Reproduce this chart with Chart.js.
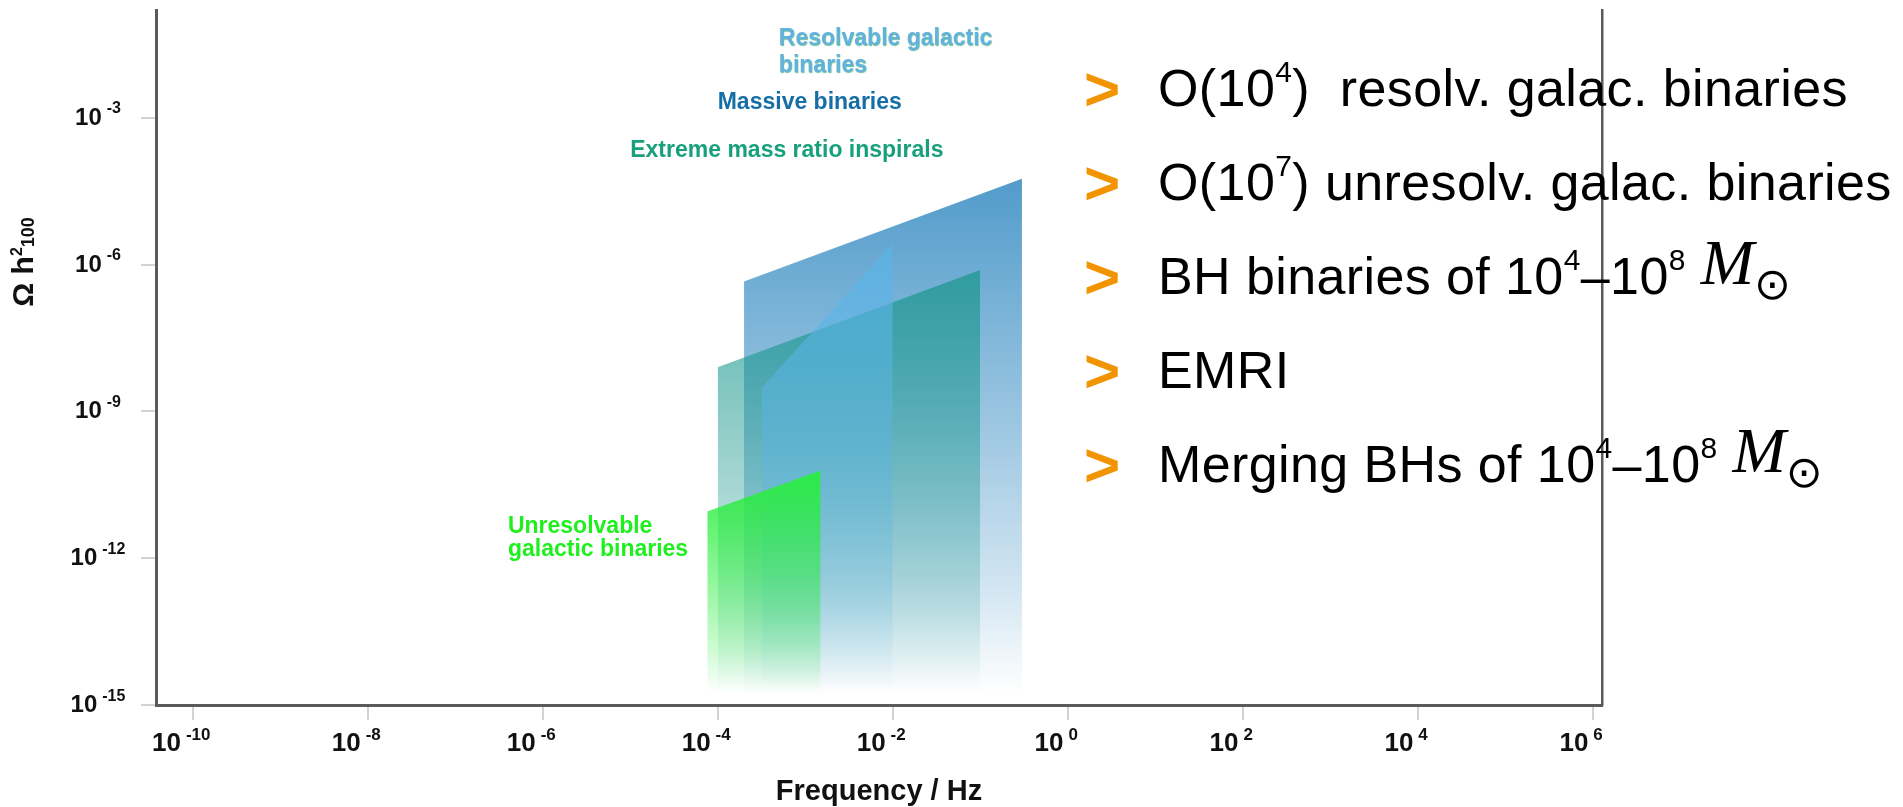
<!DOCTYPE html>
<html lang="en">
<head>
<meta charset="utf-8">
<title>Gravitational-wave sources in the LISA band</title>
<script src="https://cdn.jsdelivr.net/npm/chart.js@4.4.1/dist/chart.umd.min.js"></script>
<style>
  html, body { margin: 0; padding: 0; background: #fff; }
  #stage { position: relative; width: 1903px; height: 807px; overflow: hidden; }
  #plot { position: absolute; left: 0; top: 0; width: 1903px; height: 807px; }
  .bullet, .item { position: absolute; white-space: nowrap; font-family: "Liberation Sans", Arial, sans-serif; }
  .bullet { left: 1084px; font-size: 62px; line-height: 62px; font-weight: bold; color: #f29400; }
  .item { left: 1158px; font-size: 52px; line-height: 52px; letter-spacing: 0.4px; color: #000; }
  .item sup { font-size: 30px; line-height: 0; vertical-align: 24px; }
  .item .m { font-family: "Liberation Serif", "DejaVu Serif", serif; font-style: italic; font-size: 64px; line-height: 0; vertical-align: 10px; letter-spacing: 0; }
  .item .sun { font-family: "DejaVu Sans", sans-serif; font-size: 44px; line-height: 0; vertical-align: -5px; letter-spacing: 0; }
</style>
</head>
<body>
<div id="stage">
  <div id="plot"><canvas id="c"></canvas></div>

  <div class="bullet" style="top:57.5px">&gt;</div>
  <div class="item" style="top:62px">O(10<sup>4</sup>)&nbsp; resolv. galac. binaries</div>

  <div class="bullet" style="top:151.5px">&gt;</div>
  <div class="item" style="top:156px">O(10<sup>7</sup>) unresolv. galac. binaries</div>

  <div class="bullet" style="top:245.5px">&gt;</div>
  <div class="item" style="top:250px">BH binaries of 10<sup>4</sup>–10<sup>8</sup> <span class="m">M</span><span class="sun">⊙</span></div>

  <div class="bullet" style="top:339.5px">&gt;</div>
  <div class="item" style="top:344px">EMRI</div>

  <div class="bullet" style="top:433.5px">&gt;</div>
  <div class="item" style="top:438px">Merging BHs of 10<sup>4</sup>–10<sup>8</sup> <span class="m">M</span><span class="sun">⊙</span></div>
</div>

<script>
// axis ticks (decades that carry a label)
const X_TICKS = [1e-10, 1e-8, 1e-6, 1e-4, 1e-2, 1, 1e2, 1e4, 1e6];
const Y_TICKS = [1e-15, 1e-12, 1e-9, 1e-6, 1e-3];

// axis limits
const X_MIN = 3.8e-11;
const X_MAX = 1.28e6;
const Y_MIN = 1e-15;
const Y_MAX = 0.16;

// upper edge of each source region: [low-f corner, high-f corner]
const MBH_FREQ = [2.0e-4, 0.30];
const MBH_OMEGA = [4.5e-7, 5.7e-5];

const EMRI_FREQ = [1.0e-4, 0.10];
const EMRI_OMEGA = [8.0e-9, 7.8e-7];

const RESOLVED_FREQ = [3.2e-4, 1.0e-2];
const RESOLVED_OMEGA = [3.1e-9, 2.7e-6];

const UNRESOLVED_FREQ = [7.6e-5, 1.5e-3];
const UNRESOLVED_OMEGA = [9.0e-12, 6.2e-11];

const FONT = '"Liberation Sans", Arial, Helvetica, sans-serif';

const toPoints = (fs, os) => fs.map((f, i) => ({ x: f, y: os[i] }));

// vertical fade from the top of the region down to the axis
function fade(rgb, a0) {
  return (c) => {
    const chart = c.chart;
    const area = chart.chartArea;
    if (!area || !c.dataset) return `rgba(${rgb},${a0})`;
    const top = chart.scales.y.getPixelForValue(Math.max(...c.dataset.data.map((p) => p.y)));
    const g = chart.ctx.createLinearGradient(0, top, 0, area.bottom - 12);
    g.addColorStop(0, `rgba(${rgb},${a0})`);
    g.addColorStop(0.5, `rgba(${rgb},${a0 * 0.55})`);
    g.addColorStop(0.8, `rgba(${rgb},${a0 * 0.25})`);
    g.addColorStop(1, `rgba(${rgb},0)`);
    return g;
  };
}

function region(label, fs, os, rgb, a0, order) {
  return {
    label,
    data: toPoints(fs, os),
    fill: 'start',
    backgroundColor: fade(rgb, a0),
    borderWidth: 0,
    pointRadius: 0,
    tension: 0,
    order,
  };
}

const notes = [
  { lines: ['Resolvable galactic', 'binaries'], f: 5.0e-4, omega: 3.15e-2, lh: 27, color: '#62b2de', shadow: 'rgba(45,160,105,0.7)' },
  { lines: ['Massive binaries'], f: 1.0e-4, omega: 1.55e-3, lh: 0, color: '#156ea6' },
  { lines: ['Extreme mass ratio inspirals'], f: 1.0e-5, omega: 1.55e-4, lh: 0, color: '#18a07c' },
  { lines: ['Unresolvable', 'galactic binaries'], f: 4.0e-7, omega: 3.2e-12, lh: 23, color: '#1ef01e' },
];

function drawPower(ctx, exp, cx, baseline, big, small, raise, gap) {
  const sup = String(exp);
  ctx.font = `bold ${big}px ${FONT}`;
  const wb = ctx.measureText('10').width;
  ctx.font = `bold ${small}px ${FONT}`;
  const ws = ctx.measureText(sup).width;
  const x0 = cx - (wb + gap + ws) / 2;
  ctx.font = `bold ${big}px ${FONT}`;
  ctx.fillText('10', x0, baseline);
  ctx.font = `bold ${small}px ${FONT}`;
  ctx.fillText(sup, x0 + wb + gap, baseline - raise);
}

const labelsPlugin = {
  id: 'labels',
  afterDatasetsDraw(chart) {
    const { ctx, scales: { x, y } } = chart;
    ctx.save();
    ctx.textAlign = 'left';
    ctx.textBaseline = 'alphabetic';
    ctx.font = `bold 23px ${FONT}`;
    notes.forEach((n) => {
      const px = x.getPixelForValue(n.f);
      const py = y.getPixelForValue(n.omega);
      ctx.fillStyle = n.color;
      if (n.shadow) {
        ctx.shadowColor = n.shadow;
        ctx.shadowOffsetX = 0.5;
        ctx.shadowOffsetY = 1;
        ctx.shadowBlur = 1;
      } else {
        ctx.shadowColor = 'transparent';
      }
      n.lines.forEach((t, i) => ctx.fillText(t, px, py + i * n.lh));
    });
    ctx.restore();
  },
  afterDraw(chart) {
    const { ctx, chartArea, scales: { x, y } } = chart;
    ctx.save();
    ctx.fillStyle = '#111';
    ctx.textAlign = 'left';
    ctx.textBaseline = 'alphabetic';

    X_TICKS.forEach((v) => {
      drawPower(ctx, Math.round(Math.log10(v)), x.getPixelForValue(v) - 11.5, 751, 26, 17, 11, 5);
    });
    Y_TICKS.forEach((v) => {
      drawPower(ctx, Math.round(Math.log10(v)), 98, y.getPixelForValue(v) + 7, 24, 16, 11.5, 5);
    });

    // x title
    ctx.font = `bold 29px ${FONT}`;
    ctx.textAlign = 'center';
    ctx.fillText('Frequency / Hz', (chartArea.left + chartArea.right) / 2, 800);

    // y title: Ω h²₁₀₀, rotated
    ctx.textAlign = 'left';
    ctx.translate(33, 262);
    ctx.rotate(-Math.PI / 2);
    const parts = [
      { t: 'Ω h', size: 30, dy: 0 },
      { t: '2', size: 16, dy: -11 },
      { t: '100', size: 18, dy: 1 },
    ];
    let total = 0;
    parts.forEach((p) => {
      ctx.font = `bold ${p.size}px ${FONT}`;
      p.w = ctx.measureText(p.t).width;
      total += p.w;
    });
    let cur = -total / 2;
    parts.forEach((p) => {
      ctx.font = `bold ${p.size}px ${FONT}`;
      ctx.fillText(p.t, cur, p.dy);
      cur += p.w;
    });
    ctx.restore();
  },
};

const logAxis = (ticks, min, max) => ({
  type: 'logarithmic',
  min,
  max,
  afterBuildTicks: (s) => { s.ticks = ticks.map((v) => ({ value: v })); },
  ticks: { display: false },
  grid: { drawOnChartArea: false, drawTicks: true, tickLength: 15, color: '#d2d2d2', lineWidth: 2 },
  border: { display: true, color: '#5a5a5a', width: 3 },
});

new Chart(document.getElementById('c'), {
  type: 'line',
  data: {
    datasets: [
      region('Unresolvable galactic binaries', UNRESOLVED_FREQ, UNRESOLVED_OMEGA, '40,238,60', 0.93, 1),
      region('Resolvable galactic binaries', RESOLVED_FREQ, RESOLVED_OMEGA, '90,180,232', 0.7, 2),
      region('Extreme mass ratio inspirals', EMRI_FREQ, EMRI_OMEGA, '25,150,140', 0.72, 3),
      region('Massive binaries', MBH_FREQ, MBH_OMEGA, '72,150,200', 0.95, 4),
    ],
  },
  options: {
    responsive: true,
    maintainAspectRatio: false,
    animation: false,
    events: [],
    layout: { padding: { top: 10, right: 301, bottom: 0, left: 0 } },
    plugins: { legend: { display: false }, tooltip: { enabled: false } },
    scales: {
      x: { ...logAxis(X_TICKS, X_MIN, X_MAX), afterFit: (s) => { s.height = 102; } },
      y: { ...logAxis(Y_TICKS, Y_MIN, Y_MAX), position: 'left', afterFit: (s) => { s.width = 156; } },
      yr: {
        type: 'logarithmic',
        position: 'right',
        min: Y_MIN,
        max: Y_MAX,
        ticks: { display: false },
        grid: { display: false },
        border: { display: true, color: '#5a5a5a', width: 2.5 },
        afterFit: (s) => { s.width = 0; },
      },
    },
  },
  plugins: [labelsPlugin],
});
</script>
</body>
</html>
